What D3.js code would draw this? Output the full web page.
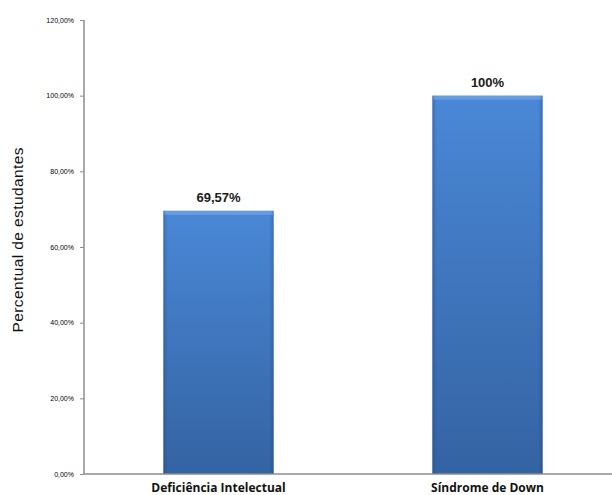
<!DOCTYPE html>
<html><head><meta charset="utf-8">
<script src="https://cdn.jsdelivr.net/npm/d3@7"></script>
<style>body{margin:0;background:#fff}svg{display:block}</style>
</head><body>
<script>
const categories = ["Deficiência Intelectual", "Síndrome de Down"];
const values = [69.57, 100];
const valueLabels = ["69,57%", "100%"];
const yTicks = [0, 20, 40, 60, 80, 100, 120];
const yTickLabels = ["0,00%", "20,00%", "40,00%", "60,00%", "80,00%", "100,00%", "120,00%"];

const W = 612, H = 495;
const svg = d3.select("body").append("svg").attr("width", W).attr("height", H);
const x0 = 84, x1 = 622, yTop = 20, yBot = 474;
const x = d3.scaleBand().domain(categories).range([x0, x1]).paddingInner(0.59).paddingOuter(0.295);
const y = d3.scaleLinear().domain([0, 120]).range([yBot, yTop]);

const defs = svg.append("defs");
const gv = defs.append("linearGradient").attr("id", "gv").attr("x1", 0).attr("y1", 0).attr("x2", 0).attr("y2", 1);
gv.append("stop").attr("offset", 0).attr("stop-color", "#4a88d7");
gv.append("stop").attr("offset", 1).attr("stop-color", "#3463a2");
const gh = defs.append("linearGradient").attr("id", "gh").attr("x1", 0).attr("y1", 0).attr("x2", 1).attr("y2", 0);
gh.append("stop").attr("offset", 0).attr("stop-color", "#1f3f70").attr("stop-opacity", 0.35);
gh.append("stop").attr("offset", 0.04).attr("stop-color", "#1f3f70").attr("stop-opacity", 0);
gh.append("stop").attr("offset", 0.96).attr("stop-color", "#1f3f70").attr("stop-opacity", 0);
gh.append("stop").attr("offset", 1).attr("stop-color", "#1f3f70").attr("stop-opacity", 0.35);

const bars = svg.append("g").selectAll("g").data(categories).join("g");
bars.append("rect")
  .attr("x", d => x(d)).attr("width", x.bandwidth())
  .attr("y", (d, i) => y(values[i])).attr("height", (d, i) => yBot - y(values[i]))
  .attr("fill", "url(#gv)");
bars.append("rect")
  .attr("x", d => x(d)).attr("width", x.bandwidth())
  .attr("y", (d, i) => y(values[i])).attr("height", (d, i) => yBot - y(values[i]))
  .attr("fill", "url(#gh)");
bars.append("rect")
  .attr("x", d => x(d) + 1).attr("width", x.bandwidth() - 2)
  .attr("y", (d, i) => y(values[i])).attr("height", 4)
  .attr("fill", "#7aaae6").attr("opacity", 0.6);

// value labels
svg.append("g").selectAll("text").data(categories).join("text")
  .attr("x", d => x(d) + x.bandwidth() / 2)
  .attr("y", (d, i) => y(values[i]) - 9)
  .attr("text-anchor", "middle")
  .attr("font-family", "Liberation Sans, Arial, sans-serif")
  .attr("font-weight", "bold").attr("font-size", 13).attr("fill", "#1a1a1a")
  .text((d, i) => valueLabels[i]);

// y axis
const ya = d3.axisLeft(y).tickValues(yTicks).tickSize(4).tickFormat((d, i) => yTickLabels[i]);
const yg = svg.append("g").attr("transform", `translate(${x0},0)`).call(ya);
yg.select(".domain").attr("stroke", "#8c8c8c").attr("stroke-width", 1.5).attr("d", `M0,${yTop}V${yBot}`);
yg.selectAll(".tick line").attr("stroke", "#8c8c8c");
yg.selectAll(".tick text").attr("font-family", "Liberation Sans, Arial, sans-serif")
  .attr("font-size", 7).attr("fill", "#000").attr("x", -10);

// x axis
const xa = d3.axisBottom(x).tickSize(0);
const xg = svg.append("g").attr("transform", `translate(0,${yBot})`).call(xa);
xg.select(".domain").attr("stroke", "#8c8c8c").attr("stroke-width", 1.5).attr("d", `M${x0},0H${W}`);
xg.selectAll(".tick text").attr("font-family", "Open Sans, Lato, sans-serif")
  .attr("font-weight", "bold").attr("font-size", 12).attr("fill", "#111").attr("dy", 0).attr("y", 18);

// y title
svg.append("text")
  .attr("transform", `translate(23,240) rotate(-90)`)
  .attr("text-anchor", "middle")
  .attr("font-family", "Liberation Sans, Arial, sans-serif")
  .attr("font-size", 15.5).attr("fill", "#111")
  .attr("textLength", 185).attr("lengthAdjust", "spacing")
  .text("Percentual de estudantes");
</script>
</body></html>
